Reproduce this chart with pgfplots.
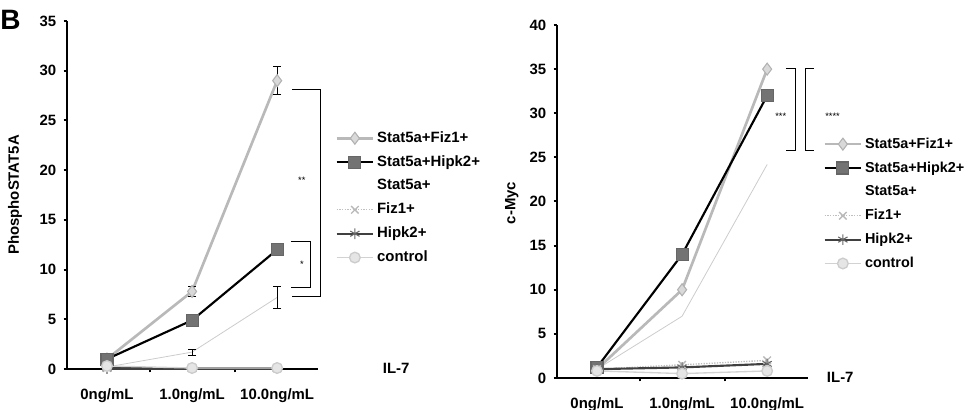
\documentclass[border=0pt]{standalone}
\usepackage{fontspec}
\setmainfont{Liberation Sans}
\usepackage{pgfplots}
\pgfplotsset{compat=1.18}

\pgfplotsset{
  panel/.style={
    scale only axis,
    anchor=south west,
    width=188.25pt,
    axis x line=bottom, axis y line=left,
    axis line style={-, line width=2pt, black},
    xmin=-0.47, xmax=2.48, ymin=0,
    xtick={0,1,2},
    xticklabels={0ng/mL,1.0ng/mL,10.0ng/mL},
    minor xtick={0.5,1.5},
    major x tick style={draw=none},
    ytick distance=5,
    tick align=outside,
    major tick length=2.5pt,
    minor tick length=2.5pt,
    every tick/.style={black, line width=1.5pt},
    xticklabel style={yshift=-9pt},
    yticklabel style={xshift=-2pt},
    font=\fontsize{11.2}{13}\selectfont\bfseries,
    /pgf/number format/assume math mode=true,
    clip=false,
    legend style={draw=none, fill=none, inner sep=0pt, anchor=north west,
      legend cell align=left, row sep=6.9pt,
      /tikz/every odd column/.append style={column sep=1.5pt},
      nodes={inner sep=0.5pt, text height=8pt, text depth=2pt}},
  },
  limg/.style={legend image code/.code={\draw[mark repeat=2,mark phase=2,##1]
      plot coordinates {(0cm,0cm) (0.48cm,0cm) (0.96cm,0cm)};}},
  s5fiz/.style={limg, gray!55, line width=2pt, mark=diamond*, mark size=4.5pt,
    mark options={fill=gray!30, draw=gray!60, line width=0.8pt}},
  s5hip/.style={limg, black, line width=1.6pt, mark=square*, mark size=4.5pt,
    mark options={fill=black!55, draw=black!60, line width=0.8pt}},
  s5/.style={gray!40, line width=0.6pt, mark=none, legend image code/.code={}},
  fiz/.style={limg, gray!50, line width=1pt, densely dotted, mark=x, mark size=4pt,
    mark options={solid, gray!55}},
  hip/.style={limg, black!75, line width=1.6pt, mark=asterisk, mark size=4pt,
    mark options={solid, black!60, line width=0.8pt}},
  ctrl/.style={limg, gray!35, line width=1pt, mark=*, mark size=4pt,
    mark options={fill=gray!20, draw=gray!40}},
  ebar/.style={error bars/.cd, y dir=both, y explicit,
    error bar style={black, line width=0.8pt}, error mark options={black, mark size=3pt, line width=0.8pt, rotate=90}},
}

\begin{document}
\begin{tikzpicture}
\path[use as bounding box] (0,0) rectangle (727.5pt,307.5pt);
\node[anchor=base west, inner sep=0pt, font=\fontsize{21}{21}\selectfont\bfseries] at (0pt,285pt) {B};

% left panel: PhosphoSTAT5A
\begin{axis}[panel, at={(50.25pt,30.75pt)}, height=261pt, ymax=35,
  ylabel={PhosphoSTAT5A},
  every axis y label/.style={at={(axis description cs:-0.207,0.5)}, rotate=90, anchor=center},
  legend style={at={(axis description cs:1.068,0.685)}}]
\addplot[s5fiz, ebar] coordinates {(0,1.0) +- (0,0) (1,7.8) +- (0,0.5) (2,29.0) +- (0,1.4)};
\addplot[s5hip, ebar] coordinates {(0,1.0) +- (0,0.3) (1,4.9) +- (0,0.4) (2,12.0) +- (0,0.6)};
\addplot[s5, ebar] coordinates {(0,0.2) +- (0,0) (1,1.7) +- (0,0.3) (2,7.2) +- (0,1.1)};
\addplot[fiz] coordinates {(0,0.1) (1,0.1) (2,0.05)};
\addplot[hip] coordinates {(0,0.05) (1,0.05) (2,0.05)};
\addplot[ctrl] coordinates {(0,0.3) (1,0.1) (2,0.1)};
\legend{Stat5a+Fiz1+,Stat5a+Hipk2+,Stat5a+,Fiz1+,Hipk2+,control}
\draw[black, line width=0.6pt] (axis cs:2.18,28.1) -- (axis cs:2.506,28.1) -- (axis cs:2.506,7.3) -- (axis cs:2.18,7.3);
\draw[black, line width=0.6pt] (axis cs:2.16,12.8) -- (axis cs:2.39,12.8) -- (axis cs:2.39,8.2) -- (axis cs:2.16,8.2);
\node[font=\fontsize{7}{7}\selectfont] at (axis cs:2.29,19) {**};
\node[font=\fontsize{7}{7}\selectfont] at (axis cs:2.29,10.5) {*};
\node[anchor=west, inner sep=0pt] at (axis cs:3.24,0.1) {IL-7};
\end{axis}

% right panel: c-Myc
\begin{axis}[panel, at={(417.75pt,24pt)}, height=264.75pt, ymax=40,
  ylabel={c-Myc},
  every axis y label/.style={at={(axis description cs:-0.18,0.496)}, rotate=90, anchor=center},
  legend style={at={(axis description cs:1.06,0.684)}, font=\fontsize{10.8}{13}\selectfont\bfseries}]
\addplot[s5fiz] coordinates {(0,1.0) (1,10.0) (2,35.0)};
\addplot[s5hip, ebar] coordinates {(0,1.2) +- (0,0) (1,14.0) +- (0,0.5) (2,32.0) +- (0,0.7)};
\addplot[s5] coordinates {(0,1.0) (1,7.0) (2,24.2)};
\addplot[fiz] coordinates {(0,1.0) (1,1.5) (2,2.0)};
\addplot[hip] coordinates {(0,1.0) (1,1.2) (2,1.6)};
\addplot[ctrl] coordinates {(0,0.8) (1,0.5) (2,0.8)};
\legend{Stat5a+Fiz1+,Stat5a+Hipk2+,Stat5a+,Fiz1+,Hipk2+,control}
\draw[black, line width=0.6pt] (axis cs:2.22,35.1) -- (axis cs:2.33,35.1) -- (axis cs:2.33,25.8) -- (axis cs:2.22,25.8);
\draw[black, line width=0.6pt] (axis cs:2.55,35.1) -- (axis cs:2.45,35.1) -- (axis cs:2.45,25.8) -- (axis cs:2.55,25.8);
\node[font=\fontsize{7}{7}\selectfont] at (axis cs:2.16,29.6) {***};
\node[font=\fontsize{7}{7}\selectfont, anchor=west, inner sep=0pt] at (axis cs:2.68,29.7) {****};
\node[anchor=west, inner sep=0pt] at (axis cs:2.7,0.1) {IL-7};
\end{axis}
\end{tikzpicture}
\end{document}
